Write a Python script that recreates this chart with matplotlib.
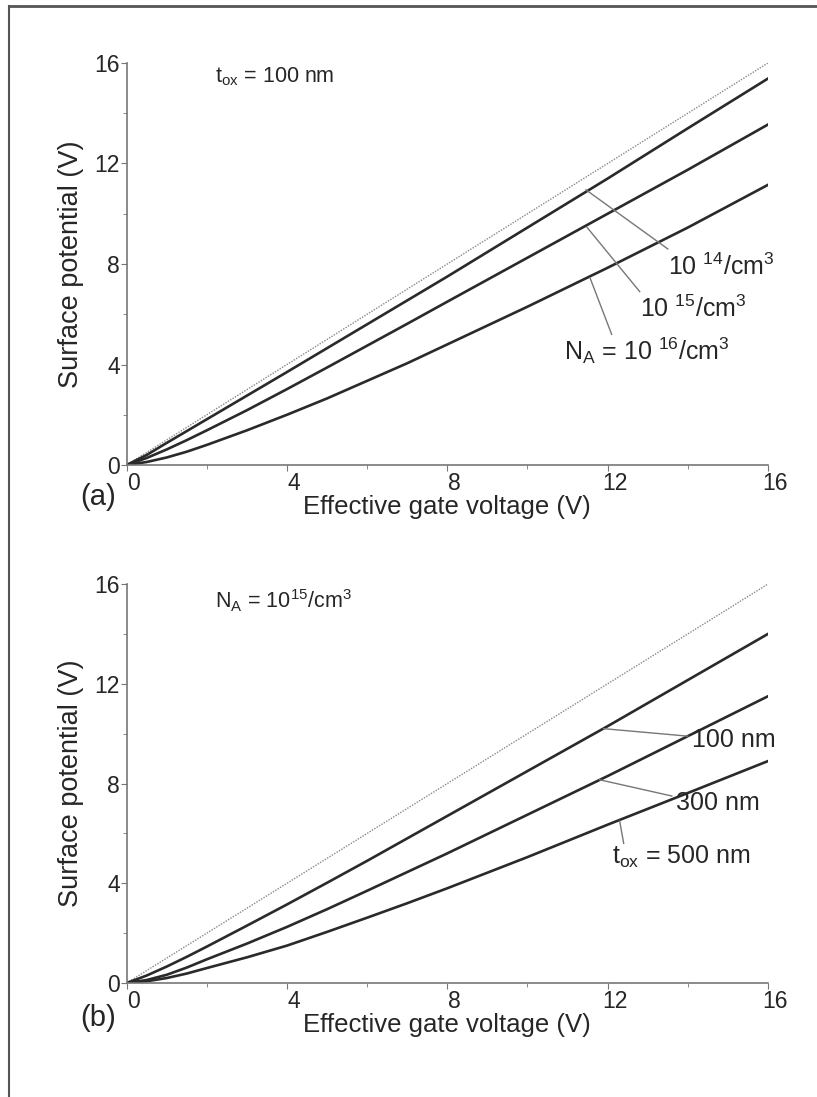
import numpy as np
import matplotlib
matplotlib.use("Agg")
import matplotlib.pyplot as plt
from matplotlib.lines import Line2D
from matplotlib.ticker import MultipleLocator
from matplotlib.transforms import ScaledTranslation

plt.rcParams['font.family'] = ['Liberation Sans', 'DejaVu Sans']
plt.rcParams['mathtext.default'] = 'regular'

# Tension de grille effective (V)
vg = [0, 0.5, 1, 1.5, 2, 3, 4, 5, 6, 7, 8, 10, 12, 14, 16]

# (a) t_ox = 100 nm, dopage variable
psi_1e14 = [0, 0.40, 0.88, 1.35, 1.82, 2.76, 3.70, 4.65, 5.60, 6.55, 7.50, 9.45, 11.40, 13.40, 15.38]
psi_1e15 = [0, 0.28, 0.62, 0.99, 1.38, 2.18, 3.02, 3.88, 4.75, 5.62, 6.50, 8.25, 10.00, 11.75, 13.55]
psi_1e16 = [0, 0.12, 0.30, 0.53, 0.80, 1.38, 2.00, 2.65, 3.35, 4.05, 4.80, 6.30, 7.85, 9.45, 11.15]

# (b) N_A = 1e15, épaisseur d'oxyde variable
psi_100nm = [0, 0.30, 0.66, 1.05, 1.46, 2.30, 3.15, 4.02, 4.90, 5.80, 6.70, 8.50, 10.30, 12.15, 14.00]
psi_300nm = [0, 0.12, 0.33, 0.62, 0.95, 1.58, 2.25, 2.96, 3.70, 4.45, 5.20, 6.75, 8.30, 9.90, 11.50]
psi_500nm = [0, 0.07, 0.20, 0.38, 0.60, 1.03, 1.50, 2.05, 2.62, 3.20, 3.80, 5.05, 6.35, 7.62, 8.90]

ideal = [0, 16]

fig = plt.figure(figsize=(8.17, 10.97), dpi=100)

# cadre de la figure (bords gauche et haut)
fig.add_artist(Line2D([0.011, 0.011], [0, 0.9945], transform=fig.transFigure, color='#555555', lw=1.5))
fig.add_artist(Line2D([0.011, 1.0], [0.9945, 0.9945], transform=fig.transFigure, color='#555555', lw=2.0))

ax1 = fig.add_axes([0.155, 0.5761, 0.785, 0.3665])
ax2 = fig.add_axes([0.155, 0.1039, 0.785, 0.3637])

txt = '#262626'
decal = ScaledTranslation(7 / 100, 0, fig.dpi_scale_trans)
for ax in (ax1, ax2):
    ax.plot(ideal, ideal, color='#888888', lw=1.0, ls=(0, (1, 1)))
    ax.set_xlim(0, 16)
    ax.set_ylim(0, 16)
    ax.xaxis.set_major_locator(MultipleLocator(4))
    ax.yaxis.set_major_locator(MultipleLocator(4))
    ax.xaxis.set_minor_locator(MultipleLocator(2))
    ax.yaxis.set_minor_locator(MultipleLocator(2))
    for s in ('top', 'right'):
        ax.spines[s].set_visible(False)
    for s in ('left', 'bottom'):
        ax.spines[s].set_color('#777777')
        ax.spines[s].set_linewidth(1.2)
    ax.tick_params(which='both', direction='out', color='#777777', labelsize=16.5, pad=1, labelcolor=txt)
    ax.tick_params(which='major', length=4)
    ax.tick_params(which='minor', length=3)
    for lab in ax.get_xticklabels():
        lab.set_transform(lab.get_transform() + decal)
    ax.set_xlabel("Effective gate voltage (V)", fontsize=18.5, color=txt, labelpad=0)
    ax.set_ylabel("Surface potential (V)", fontsize=19.5, color=txt, labelpad=7)

lc = '#2a2a2a'
ax1.plot(vg, psi_1e14, color=lc, lw=1.9)
ax1.plot(vg, psi_1e15, color=lc, lw=1.9)
ax1.plot(vg, psi_1e16, color=lc, lw=1.9)

ax2.plot(vg, psi_100nm, color=lc, lw=1.9)
ax2.plot(vg, psi_300nm, color=lc, lw=1.9)
ax2.plot(vg, psi_500nm, color=lc, lw=1.9)

tk = dict(fontsize=15.5, color=txt)
ax1.text(2.2, 15.45, "t$_{ox}$ = 100 nm", va='center', **tk)
ax2.text(2.2, 15.35, "N$_A$ = 10$^{15}$/cm$^3$", va='center', **tk)

lb = dict(fontsize=18, color=txt)
lead = dict(color='#777777', lw=1.0)
# étiquettes (a)
ax1.plot([11.46, 13.5], [10.95, 8.6], **lead)
ax1.text(13.5, 7.9, "10 $^{14}$/cm$^3$", va='center', **lb)
ax1.plot([11.49, 12.8], [9.45, 6.9], **lead)
ax1.text(12.8, 6.2, "10 $^{15}$/cm$^3$", va='center', **lb)
ax1.plot([11.56, 12.1], [7.45, 5.2], **lead)
ax1.text(10.9, 4.55, "N$_A$ = 10 $^{16}$/cm$^3$", va='center', **lb)

# étiquettes (b)
ax2.plot([11.9, 14.0], [10.2, 9.9], **lead)
ax2.text(14.1, 9.75, "100 nm", va='center', **lb)
ax2.plot([11.8, 13.6], [8.15, 7.5], **lead)
ax2.text(13.7, 7.2, "300 nm", va='center', **lb)
ax2.plot([12.3, 12.4], [6.5, 5.6], **lead)
ax2.text(12.1, 5.05, "t$_{ox}$ = 500 nm", va='center', **lb)

fig.text(0.098, 0.547, "(a)", fontsize=21, color=txt, va='center')
fig.text(0.098, 0.072, "(b)", fontsize=21, color=txt, va='center')

fig.savefig("out.png", dpi=100)
